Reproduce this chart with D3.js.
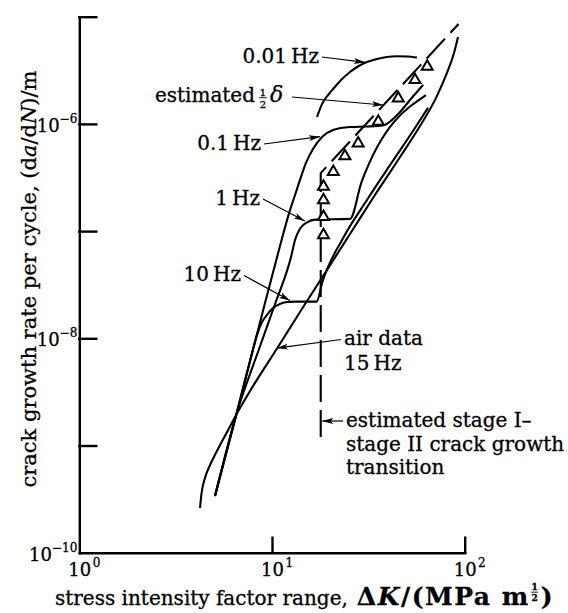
<!DOCTYPE html>
<html>
<head>
<meta charset="utf-8">
<script src="https://cdn.jsdelivr.net/npm/d3@7"></script>
<style>
body { margin: 0; background: #fff; }
svg { display: block; }
svg text { stroke: #000; stroke-width: 0.3px; }
</style>
</head>
<body>
<div id="chart"></div>
<script>
// fatigue crack growth vs stress intensity factor range
// K in MPa m^1/2, rate in m per cycle

var airK    = [4.23, 4.31, 4.49, 4.77, 5.18, 5.77, 6.56, 7.69, 10.74, 13.97, 18.84, 25.4, 34.2, 46.2, 58.6, 71.0, 80.9, 88.0, 92.3]
var airRate = [2.61e-10, 3.60e-10, 4.98e-10, 6.58e-10, 8.89e-10, 1.28e-9, 1.97e-9, 3.22e-9, 8.29e-9, 1.76e-8, 4.06e-8, 9.40e-8, 2.17e-7, 4.91e-7, 9.55e-7, 1.75e-6, 2.99e-6, 4.58e-6, 6.47e-6]

var hz10K    = [5.06, 6.56, 7.69, 8.36, 8.77, 9.31, 10.0, 10.87, 11.96, 13.32, 17.06, 18.18, 23.4, 31.1, 42.0, 53.9, 64.5]
var hz10Rate = [3.38e-10, 2.01e-9, 6.14e-9, 1.07e-8, 1.36e-8, 1.61e-8, 1.88e-8, 2.07e-8, 2.18e-8, 2.20e-8, 2.20e-8, 3.28e-8, 8.63e-8, 1.95e-7, 4.41e-7, 8.59e-7, 1.41e-6]

var hz1K    = [5.06, 6.56, 8.53, 10.37, 12.55, 13.17, 13.97, 15.01, 16.72, 25.4, 29.2, 63.0]
var hz1Rate = [3.38e-10, 2.01e-9, 7.78e-9, 2.09e-8, 5.73e-8, 8.26e-8, 1.05e-7, 1.19e-7, 1.28e-7, 1.30e-7, 2.89e-7, 1.86e-6]

var hz01K    = [5.06, 6.56, 7.69, 9.20, 11.00, 12.40, 13.17, 13.97, 15.01, 16.32, 18.18, 20.73, 25.4, 31.1, 37.7, 41.96, 46.2, 52.0, 60.8]
var hz01Rate = [3.38e-10, 2.01e-9, 6.14e-9, 2.13e-8, 7.26e-8, 1.57e-7, 2.17e-7, 3.00e-7, 4.32e-7, 5.83e-7, 7.55e-7, 8.77e-7, 9.35e-7, 9.46e-7, 9.66e-7, 1.09e-6, 1.29e-6, 1.67e-6, 2.31e-6]

var hz001K    = [17.12, 18.18, 19.53, 20.97, 23.1, 25.4, 27.9, 31.1, 35.1, 39.5, 44.5, 50.2, 56.5]
var hz001Rate = [1.16e-6, 1.53e-6, 1.86e-6, 2.16e-6, 2.62e-6, 3.05e-6, 3.43e-6, 3.78e-6, 4.03e-6, 4.21e-6, 4.27e-6, 4.26e-6, 4.16e-6]

// stage I / stage II transition and estimated half crack opening
var transK    = [17.9, 17.9, 92.9]
var transRate = [1.2e-9, 3.48e-7, 8.55e-6]

var triK    = [18.5, 18.5, 18.5, 18.5, 20.8, 23.9, 28.0, 35.6, 45.2, 55.2, 63.9]
var triRate = [9.2e-8, 1.36e-7, 1.95e-7, 2.60e-7, 3.58e-7, 5.02e-7, 6.59e-7, 1.05e-6, 1.73e-6, 2.57e-6, 3.42e-6]

var yTicks = [1e-9, 1e-8, 1e-7, 1e-6, 1e-5]
var xTicks = [10, 100]
var yLabelVals = [1e-6, 1e-8, 1e-10]
var yLabelExp  = ['\u22126', '\u22128', '\u221210']
var xLabelVals = [1, 10, 100]
var xLabelExp  = ['0', '1', '2']

var width = 568,
	height = 613,
	serif = '"DejaVu Serif", serif'

var x = d3.scaleLog().domain([1, 100]).range([79.3, 464.7])
var y = d3.scaleLog().domain([1e-10, 1e-5]).range([552.7, 16.7])

var svg = d3.select('#chart').append('svg')
	.attr('width', width)
	.attr('height', height)
	.style('font-family', serif)

svg.append('defs').append('marker')
	.attr('id', 'head')
	.attr('markerUnits', 'userSpaceOnUse')
	.attr('markerWidth', 12)
	.attr('markerHeight', 8)
	.attr('refX', 11)
	.attr('refY', 3)
	.attr('orient', 'auto')
	.append('path')
		.attr('d', 'M0,0L11,3L0,6L2.5,3z')
		.attr('fill', '#000')

// axes, ticks point inwards
svg.append('g')
	.attr('transform', 'translate(' + x(1) + ',0)')
	.call(d3.axisRight(y).tickValues(yTicks).tickSize(17).tickSizeOuter(0).tickFormat(''))
svg.append('g')
	.attr('transform', 'translate(0,' + y(1e-10) + ')')
	.call(d3.axisTop(x).tickValues(xTicks).tickSize(15).tickSizeOuter(0).tickFormat(''))
svg.selectAll('.domain, .tick line')
	.attr('stroke', '#000')
	.attr('stroke-width', 2.4)
	.attr('stroke-linecap', 'square')

svg.selectAll('text.ylab').data(yLabelVals)
	.enter().append('text')
		.classed('ylab', true)
		.attr('text-anchor', 'end')
		.attr('x', x(1) - 2)
		.attr('y', function(d){ return y(d) + 8 })
		.attr('font-size', 18)
		.each(function(d, i){
			var t = d3.select(this)
			t.append('tspan').text('10')
			t.append('tspan').attr('font-size', 12).attr('dy', -9).text(yLabelExp[i])
		})

svg.selectAll('text.xlab').data(xLabelVals)
	.enter().append('text')
		.classed('xlab', true)
		.attr('x', function(d){ return x(d) - 11 })
		.attr('y', 576)
		.attr('font-size', 18)
		.each(function(d, i){
			var t = d3.select(this)
			t.append('tspan').text('10')
			t.append('tspan').attr('font-size', 12).attr('dy', -9).attr('dx', 1.5).text(xLabelExp[i])
		})

// curves
function pairs(ks, rs){
	return ks.map(function(k, i){ return [k, rs[i]] })
}
var line = d3.line()
	.x(function(d){ return x(d[0]) })
	.y(function(d){ return y(d[1]) })
	.curve(d3.curveMonotoneX)

var series = [pairs(airK, airRate), pairs(hz10K, hz10Rate), pairs(hz1K, hz1Rate),
			  pairs(hz01K, hz01Rate), pairs(hz001K, hz001Rate)]

svg.selectAll('path.curve').data(series)
	.enter().append('path')
		.classed('curve', true)
		.attr('d', line)
		.attr('fill', 'none')
		.attr('stroke', '#000')
		.attr('stroke-width', 2.1)
		.attr('stroke-linejoin', 'round')

svg.append('path')
	.attr('d', d3.line().x(function(d){ return x(d[0]) }).y(function(d){ return y(d[1]) })(pairs(transK, transRate)))
	.attr('fill', 'none')
	.attr('stroke', '#000')
	.attr('stroke-width', 2.1)
	.attr('stroke-dasharray', '27,8')

svg.selectAll('path.tri').data(pairs(triK, triRate))
	.enter().append('path')
		.classed('tri', true)
		.attr('d', d3.symbol().type(d3.symbolTriangle).size(52))
		.attr('transform', function(d){ return 'translate(' + x(d[0]) + ',' + y(d[1]) + ')' })
		.attr('fill', '#fff')
		.attr('stroke', '#000')
		.attr('stroke-width', 2)

// annotations
function arrow(x1, y1, x2, y2){
	svg.append('line')
		.attr('x1', x1).attr('y1', y1)
		.attr('x2', x2).attr('y2', y2)
		.attr('stroke', '#000')
		.attr('stroke-width', 1.2)
		.attr('marker-end', 'url(#head)')
}
function note(str, tx, ty, anchor){
	return svg.append('text')
		.attr('x', tx)
		.attr('y', ty)
		.attr('font-size', 20)
		.attr('text-anchor', anchor || 'start')
		.text(str)
}
// stacked one-half, yb is the baseline of the lower digit
function frac(cx, yb, fs, bold){
	var g = svg.append('g')
		.attr('font-size', fs)
		.attr('text-anchor', 'middle')
		.attr('font-weight', bold ? 'bold' : 'normal')
	g.append('text').attr('x', cx).attr('y', yb - fs * 1.2).text('1')
	g.append('line')
		.attr('x1', cx - fs * 0.38).attr('x2', cx + fs * 0.38)
		.attr('y1', yb - fs * 0.98).attr('y2', yb - fs * 0.98)
		.attr('stroke', '#000').attr('stroke-width', 0.9)
	g.append('text').attr('x', cx).attr('y', yb).text('2')
}

note('0.01\u2009Hz', 319, 63, 'end')
arrow(322, 57, x(30.4), y(3.75e-6))

note('\u03b4', 270, 102).attr('font-style', 'italic').attr('font-size', 22)
frac(263, 107.5, 10)
note('estimated', 255, 102, 'end')
arrow(292, 97, x(37.7), y(1.5e-6))

note('0.1\u2009Hz', 261, 149.5, 'end')
arrow(264, 144, x(17.75), y(7.6e-7))

note('1\u2009Hz', 260, 204.5, 'end')
arrow(263, 199, x(14.8), y(1.24e-7))

note('10\u2009Hz', 241, 281, 'end')
arrow(244, 275.5, x(12.4), y(2.25e-8))

note('air data', 344, 345)
note('15\u2009Hz', 344, 369.5)
arrow(341, 339.5, x(10.6), y(8.1e-9))

note('estimated stage I\u2013', 346, 426.5)
note('stage II crack growth', 346, 450.5)
note('transition', 346, 474)
arrow(343, 421, x(17.9) + 1.5, 421)

// axis titles
var xt1 = note('stress intensity factor range,', 55, 604.5)
var x2 = 55 + xt1.node().getComputedTextLength() + 9
var xt2 = svg.append('text')
	.attr('x', x2)
	.attr('y', 604.5)
	.attr('font-size', 25)
	.attr('font-weight', 'bold')
xt2.append('tspan').text('\u0394')
xt2.append('tspan').attr('font-style', 'italic').text('K')
xt2.append('tspan').text('/(MPa m')
var close = svg.append('text')
	.attr('y', 604.5)
	.attr('font-size', 25)
	.attr('font-weight', 'bold')
	.text(')')
// a little extra spacing so the closing bracket ends where the reference does
var w2 = xt2.node().getComputedTextLength(),
	wc = close.node().getComputedTextLength(),
	spare = 565 - x2 - w2 - 12 - wc
xt2.attr('letter-spacing', Math.max(0, Math.min(1.5, spare / 10)))
w2 = xt2.node().getComputedTextLength()
frac(x2 + w2 + 5, 601, 9, true)
close.attr('x', x2 + w2 + 11)

var yt = svg.append('text')
	.attr('transform', 'translate(36,279) rotate(-90)')
	.attr('text-anchor', 'middle')
	.attr('font-size', 21)
yt.append('tspan').text('crack growth rate per cycle, (d')
yt.append('tspan').attr('font-style', 'italic').text('a')
yt.append('tspan').text('/d')
yt.append('tspan').attr('font-style', 'italic').text('N')
yt.append('tspan').text(')/m')
</script>
</body>
</html>
